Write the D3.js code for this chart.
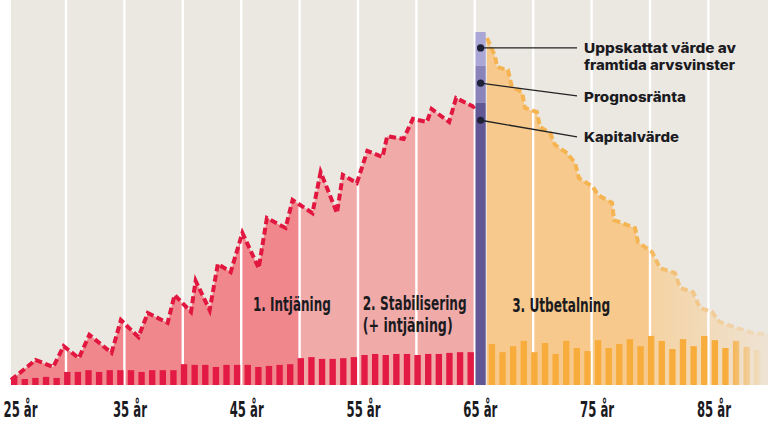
<!DOCTYPE html>
<html><head><meta charset="utf-8">
<script src="https://cdn.jsdelivr.net/npm/d3@7"></script>
<style>
html,body{margin:0;padding:0;background:#fff;}
svg{display:block;}
</style></head><body>
<svg id="chart" width="768" height="423"></svg>
<script>
// ---------- DATA ----------
const gridAges = [30,35,40,45,50,55,60,65,70,75,80,85];
const tickAges = [25,35,45,55,65,75,85];
const tickLabels = ["25 år","35 år","45 år","55 år","65 år","75 år","85 år"];

// Saving phase (ages, capital value)
const earnAges   = [25.3,27.4,28.9,29.8,31.1,32.0,33.9,34.7,36.2,37.0,38.7,39.3,40.7,41.1,42.3,43.0,44.1,45.1,46.5,47.2,48.8,49.4,51.1,51.8,53.2,53.7,54.9,55.8,57.1,57.5,58.9,59.7,60.9,61.3,62.8,63.4,64.9,65.2];
const earnValues = [1.4,7.1,5.1,11.0,7.6,14.2,9.1,18.4,13.6,20.4,17.6,25.5,20.7,29.5,21.2,34.3,32.0,43.1,33.1,47.3,44.5,52.4,48.7,60.3,48.7,59.5,57.2,66.3,64.6,70.5,69.7,75.4,74.5,78.2,74.5,81.3,78.8,79.6];

// Payout phase
const payAges   = [66.04,66.73,66.9,67.84,68.18,69.04,69.3,70.32,70.58,71.44,71.87,72.89,73.58,73.92,75.12,75.55,76.75,76.92,78.72,78.97,80.17,80.86,82.14,82.57,83.68,84.28,85.31,85.99,87.45,88.82,90.1];
const payValues = [98.3,93.2,90.1,89.2,84.4,83.0,78.5,77.3,73.1,71.4,68.0,65.7,62.9,58.6,56.1,53.8,51.6,46.7,44.5,40.5,37.7,33.1,31.7,27.5,26.3,21.8,20.7,17.8,16.1,14.7,14.4];

// Contributions (bars) and payouts (bars)
const earnBars = [2.3,1.7,2.0,2.3,2.0,3.7,3.7,4.2,3.7,4.2,4.2,4.2,3.7,4.2,4.2,4.2,5.9,5.7,5.7,5.1,5.7,5.7,5.7,5.1,5.4,5.7,5.9,7.6,7.9,7.4,7.4,7.6,7.9,8.5,8.8,8.5,8.8,8.8,8.5,8.8,8.8,9.1,9.3,9.3];
const payBars  = [11.6,9.3,11.0,12.5,9.3,11.9,8.8,12.5,10.5,9.6,12.7,10.5,11.6,13.0,11.0,13.9,12.5,10.2,13.0,11.0,13.9,12.7,10.5,12.5,10.8,9.9];

// Stacked column at retirement
const stackNames  = ["Kapitalvärde","Prognosränta","Uppskattat värde av framtida arvsvinster"];
const stackStarts = [0, 79.9, 90.4];
const stackEnds   = [79.9, 90.4, 100];

// Annotation labels
const legendLines = [["Uppskattat värde av","framtida arvsvinster"],["Prognosränta"],["Kapitalvärde"]];
const legendDotValues = [95.5, 85.5, 75.0];
const legendEndValues = [95.5, 81.9, 70.3];

// Phase labels
const phaseTexts  = [["1. Intjäning"],["2. Stabilisering","(+ intjäning)"],["3. Utbetalning"]];
const phaseAges   = [46.0, 55.4, 68.2];

// ---------- LAYOUT ----------
const W = 768, H = 423;
const svg = d3.select("#chart");
const x = d3.scaleLinear().domain([30, 85]).range([66, 708.4]);
const y = d3.scaleLinear().domain([0, 100]).range([385, 32]);
const nSlots = earnBars.length + 1 + payBars.length;
const band = d3.scaleBand().domain(d3.range(nSlots)).range([11, 760.5]).paddingInner(0.4).paddingOuter(0);

const C = {
  bg: "#ebe8e2", grid: "#ffffff",
  pinkDark: "#ef878c", pinkLight: "#f0aba9",
  red: "#e2173f", redBar: "#e31b44",
  orangeFill: "#f7c98c", orangeLine: "#f5b452", orangeBar: "#f7ac3c",
  purple: ["#625795", "#8a84bb", "#aaa6d6"],
  ink: "#1b1b1f"
};
const condensed = "'Liberation Sans Narrow','DejaVu Sans Condensed','Roboto Condensed',Roboto,sans-serif";
const sans = "Inter,'Open Sans','Noto Sans',sans-serif";

const defs = svg.append("defs");
defs.append("clipPath").attr("id", "clipStab").append("rect")
  .attr("x", x(50)).attr("y", 0).attr("width", x(66) - x(50)).attr("height", y(0));
const gA = defs.append("linearGradient").attr("id", "fadeArea").attr("gradientUnits", "userSpaceOnUse")
  .attr("x1", x(80)).attr("x2", W).attr("y1", 0).attr("y2", 0);
gA.append("stop").attr("offset", 0).attr("stop-color", C.orangeFill);
gA.append("stop").attr("offset", 0.02).attr("stop-color", "#f5d3a3");
gA.append("stop").attr("offset", 1).attr("stop-color", "#eee3d3");
const gL = defs.append("linearGradient").attr("id", "fadeLine").attr("gradientUnits", "userSpaceOnUse")
  .attr("x1", x(79)).attr("x2", W).attr("y1", 0).attr("y2", 0);
gL.append("stop").attr("offset", 0).attr("stop-color", C.orangeLine);
gL.append("stop").attr("offset", 0.35).attr("stop-color", "#f3c483");
gL.append("stop").attr("offset", 1).attr("stop-color", "#efdcc2");
const gB = defs.append("linearGradient").attr("id", "fadeBar").attr("gradientUnits", "userSpaceOnUse")
  .attr("x1", 726).attr("x2", 762).attr("y1", 0).attr("y2", 0);
gB.append("stop").attr("offset", 0).attr("stop-color", C.orangeBar);
gB.append("stop").attr("offset", 1).attr("stop-color", "#eee1cd");

// background
svg.append("rect").attr("x", 11).attr("y", 0).attr("width", W - 11).attr("height", y(0)).attr("fill", C.bg);

const earnPts = earnAges.map((a, i) => [a, earnValues[i]]);
const payPts = payAges.map((a, i) => [a, payValues[i]]);
const area = d3.area().x(d => x(d[0])).y0(y(0)).y1(d => y(d[1]));
const line = d3.line().x(d => x(d[0])).y(d => y(d[1]));

svg.append("path").attr("d", area(earnPts)).attr("fill", C.pinkDark);
svg.append("path").attr("d", area(earnPts)).attr("fill", C.pinkLight).attr("clip-path", "url(#clipStab)");
svg.append("path").attr("d", area(payPts)).attr("fill", "url(#fadeArea)");

// gridlines
svg.append("g").selectAll("line").data(gridAges).join("line")
  .attr("x1", d => x(d)).attr("x2", d => x(d)).attr("y1", 0).attr("y2", y(0))
  .attr("stroke", C.grid).attr("stroke-width", 2.4);

// dashed lines
svg.append("path").attr("d", line(earnPts)).attr("fill", "none")
  .attr("stroke", C.red).attr("stroke-width", 4).attr("stroke-dasharray", "7,3.5")
  .attr("stroke-linejoin", "miter");
svg.append("path").attr("d", line(payPts)).attr("fill", "none")
  .attr("stroke", "url(#fadeLine)").attr("stroke-width", 4).attr("stroke-dasharray", "7,3.5")
  .attr("stroke-linejoin", "miter");

// bars
svg.append("g").selectAll("rect").data(earnBars).join("rect")
  .attr("x", (d, i) => band(i)).attr("width", band.bandwidth())
  .attr("y", d => y(d)).attr("height", d => y(0) - y(d)).attr("fill", C.redBar);
const payOffset = earnBars.length + 1;
svg.append("g").selectAll("rect").data(payBars).join("rect")
  .attr("x", (d, i) => band(i + payOffset)).attr("width", band.bandwidth())
  .attr("y", d => y(d)).attr("height", d => y(0) - y(d)).attr("fill", "url(#fadeBar)");

// stacked retirement column
const pIdx = earnBars.length;
const pX = band(pIdx) - (band.step() - band.bandwidth()) / 2 - 0.5;
const pW = band.step() - 0.4;
svg.append("g").selectAll("rect").data(stackStarts).join("rect")
  .attr("x", pX).attr("width", pW)
  .attr("y", (d, i) => y(stackEnds[i])).attr("height", (d, i) => y(d) - y(stackEnds[i]))
  .attr("fill", (d, i) => C.purple[i]);

// annotations
const dotX = pX + pW / 2;
const leadEnd = 577, textX = 584;
const textBase = [53, 102, 142];
const legendWidths = [[152, 151], [102], [95]];
legendLines.forEach((lines, i) => {
  svg.append("line").attr("x1", dotX).attr("y1", y(legendDotValues[i]))
    .attr("x2", leadEnd).attr("y2", y(legendEndValues[i]))
    .attr("stroke", "#222").attr("stroke-width", 1.3);
  svg.append("circle").attr("cx", dotX).attr("cy", y(legendDotValues[i])).attr("r", 3.6).attr("fill", "#1d2036");
  lines.forEach((s, j) => {
    svg.append("text").attr("x", textX).attr("y", textBase[i] + j * 17)
      .attr("font-family", sans).attr("font-weight", 800).attr("font-size", 13.5).attr("fill", C.ink)
      .attr("textLength", legendWidths[i][j]).attr("lengthAdjust", "spacingAndGlyphs")
      .text(s);
  });
});

// phase labels
const phaseBase = [311, 310, 312];
const phaseWidths = [[78], [104, 90], [98]];
phaseTexts.forEach((lines, i) => {
  lines.forEach((s, j) => {
    svg.append("text").attr("x", x(phaseAges[i])).attr("y", phaseBase[i] + j * 22)
      .attr("font-family", condensed).attr("font-weight", 700).attr("font-size", 19)
      .attr("fill", C.ink).attr("textLength", phaseWidths[i][j]).attr("lengthAdjust", "spacingAndGlyphs")
      .text(s);
  });
});

// x axis labels
const axis = d3.axisBottom(x).tickValues(tickAges).tickFormat((d, i) => tickLabels[i]).tickSize(0).tickPadding(0);
const labelShift = 5;
const gx = svg.append("g").attr("transform", `translate(${labelShift}, 417)`).call(axis);
gx.select(".domain").remove();
gx.selectAll("text")
  .attr("font-family", condensed).attr("font-weight", 700).attr("font-size", 22)
  .attr("fill", C.ink).attr("dy", 0)
  .attr("textLength", 34).attr("lengthAdjust", "spacingAndGlyphs");
// keep first label inside the view (start at x = 3)
gx.selectAll(".tick").filter(d => d === tickAges[0]).select("text")
  .attr("text-anchor", "start").attr("x", 3 - labelShift - x(tickAges[0]));
</script>
</body></html>
